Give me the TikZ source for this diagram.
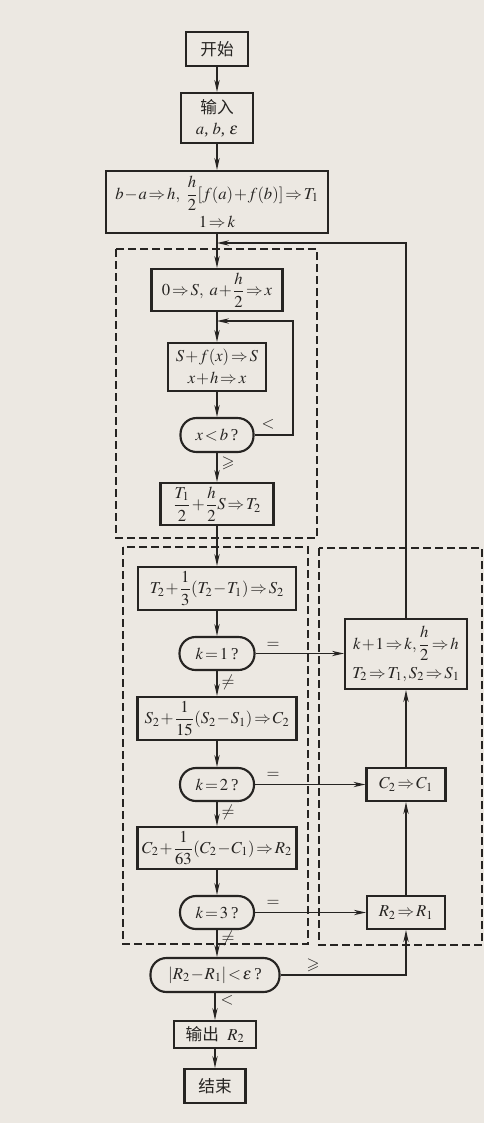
\documentclass[tikz,border=0pt]{standalone}
\usepackage{amsmath,amssymb}
\usepackage{mathptmx}
\usepackage{fontspec}
\setmainfont{Liberation Serif}
\newfontfamily\cjk{Noto Sans CJK SC}
\usetikzlibrary{arrows.meta}
\definecolor{paper}{RGB}{236,232,226}
\definecolor{ink}{RGB}{38,36,34}
\newcommand{\tightmath}{\thickmuskip=2mu\medmuskip=1mu\thinmuskip=2mu}
\begin{document}
\begin{tikzpicture}[x=0.75pt,y=-0.75pt,
  every node/.style={text=ink, font=\fontsize{12.5}{16}\selectfont\tightmath},
  box/.style={draw=ink, line width=1.6pt, rectangle, inner sep=1pt, align=center},
  dec/.style={draw=ink, line width=1.6pt, rectangle, rounded corners=12pt, inner sep=1pt, align=center},
  conn/.style={draw=ink, line width=0.9pt},
  arr/.style={conn, -{Stealth[length=9pt,width=4pt]}},
  frame/.style={draw=ink, line width=0.9pt, dash pattern=on 6pt off 3pt},
  lab/.style={inner sep=0pt}]
\fill[paper] (0,0) rectangle (484,1123);
\useasboundingbox (0,0) rectangle (484,1123);

% dashed frames
\draw[frame] (116,249) rectangle (317,538);
\draw[frame] (123,547) rectangle (308,944);
\draw[frame] (319,548) rectangle (482,945);

% main column
\node[box, minimum width=46.5pt, minimum height=25.5pt] (start) at (217,49) {\cjk 开始};
\node[box, minimum width=54pt, minimum height=37.5pt] (input) at (217,118) {{\cjk 输入}\\$a$, $b$, $\varepsilon$};
\node[box, minimum width=167pt, minimum height=46.5pt] (init) at (217,202) {$b-a\Rightarrow h,\ \dfrac{h}{2}[f(a)+f(b)]\Rightarrow T_1$\\[3pt]$1\Rightarrow k$};
\node[box, minimum width=98.25pt, minimum height=31.5pt] (s0) at (217,290) {$0\Rightarrow S,\ a+\dfrac{h}{2}\Rightarrow x$};
\node[box, minimum width=73.5pt, minimum height=36pt] (sum) at (217,367) {$S+f(x)\Rightarrow S$\\$x+h\Rightarrow x$};
\node[dec, minimum width=54.75pt, minimum height=25.5pt] (dec1) at (217,435) {$x<b$\,?};
\node[box, minimum width=84.75pt, minimum height=31.5pt] (t2) at (217,504) {$\dfrac{T_1}{2}+\dfrac{h}{2}S\Rightarrow T_2$};
\node[box, minimum width=118.5pt, minimum height=32.25pt] (s2) at (217,588.5) {$T_2+\dfrac{1}{3}(T_2-T_1)\Rightarrow S_2$};
\node[dec, minimum width=56.25pt, minimum height=24.75pt] (k1) at (217,653.5) {$k=1$\,?};
\node[box, minimum width=119.25pt, minimum height=32.25pt] (c2) at (217,718.5) {$S_2+\dfrac{1}{15}(S_2-S_1)\Rightarrow C_2$};
\node[dec, minimum width=55.5pt, minimum height=24.75pt] (k2) at (217,784.5) {$k=2$\,?};
\node[box, minimum width=119.25pt, minimum height=31.5pt] (r2) at (217,848) {$C_2+\dfrac{1}{63}(C_2-C_1)\Rightarrow R_2$};
\node[dec, minimum width=55.5pt, minimum height=24.75pt] (k3) at (217,912.5) {$k=3$\,?};
\node[dec, minimum width=96.75pt, minimum height=25.5pt] (conv) at (215,975) {$|R_2-R_1|<\varepsilon$\,?};
\node[box, minimum width=61.5pt, minimum height=20.25pt] (out) at (215,1034.5) {{\cjk 输出}\ \ $R_2$};
\node[box, minimum width=45.75pt, minimum height=25.5pt] (end) at (215,1086) {\cjk 结束};

% right column
\node[box, minimum width=91.5pt, minimum height=52.5pt] (upd) at (406,654) {$k+1\Rightarrow k,\dfrac{h}{2}\Rightarrow h$\\[4pt]$T_2\Rightarrow T_1, S_2\Rightarrow S_1$};
\node[box, minimum width=59.25pt, minimum height=24.75pt] (cc) at (406,784.5) {$C_2\Rightarrow C_1$};
\node[box, minimum width=58.5pt, minimum height=24.75pt] (rr) at (406,912.5) {$R_2\Rightarrow R_1$};

% junctions
\coordinate (j1) at (217,243);
\coordinate (j2) at (217,321);
\coordinate (l1) at (293,435);

% connectors
\draw[arr] (start) -- (input);
\draw[arr] (input) -- (init);
\draw[arr] (init) -- (s0);
\draw[arr] (upd.north) |- (j1);
\draw[arr] (s0) -- (sum);
\draw[arr] (sum) -- (dec1);
\draw[arr] (dec1.east) -- (l1) |- (j2);
\draw[arr] (dec1) -- (t2);
\draw[arr] (t2) -- (s2);
\draw[arr] (s2) -- (k1);
\draw[arr] (k1) -- (c2);
\draw[arr] (c2) -- (k2);
\draw[arr] (k2) -- (r2);
\draw[arr] (r2) -- (k3);
\draw[arr] (k3.south) -- (k3.south |- conv.north);
\draw[arr] (conv) -- (out);
\draw[arr] (out) -- (end);
\draw[arr] (k1.east) -- (k1.east -| upd.west);
\draw[arr] (k2.east) -- (k2.east -| cc.west);
\draw[arr] (k3.east) -- (k3.east -| rr.west);
\draw[arr] (cc) -- (upd);
\draw[arr] (rr) -- (cc);
\draw[arr] (conv.east) -| (rr.south);

% labels
\node[lab] (lt1) at (268,424) {$<$};
\node[lab] (ge1) at (228,463) {$\geqslant$};
\node[lab] (eq1) at (273,645) {$=$};
\node[lab] (ne1) at (228,682) {$\neq$};
\node[lab] (eq2) at (273,775) {$=$};
\node[lab] (ne2) at (228,812) {$\neq$};
\node[lab] (eq3) at (273,903) {$=$};
\node[lab] (ne3) at (228,938) {$\neq$};
\node[lab] (ge2) at (313,965) {$\geqslant$};
\node[lab] (lt2) at (227,1000) {$<$};
\end{tikzpicture}
\end{document}
